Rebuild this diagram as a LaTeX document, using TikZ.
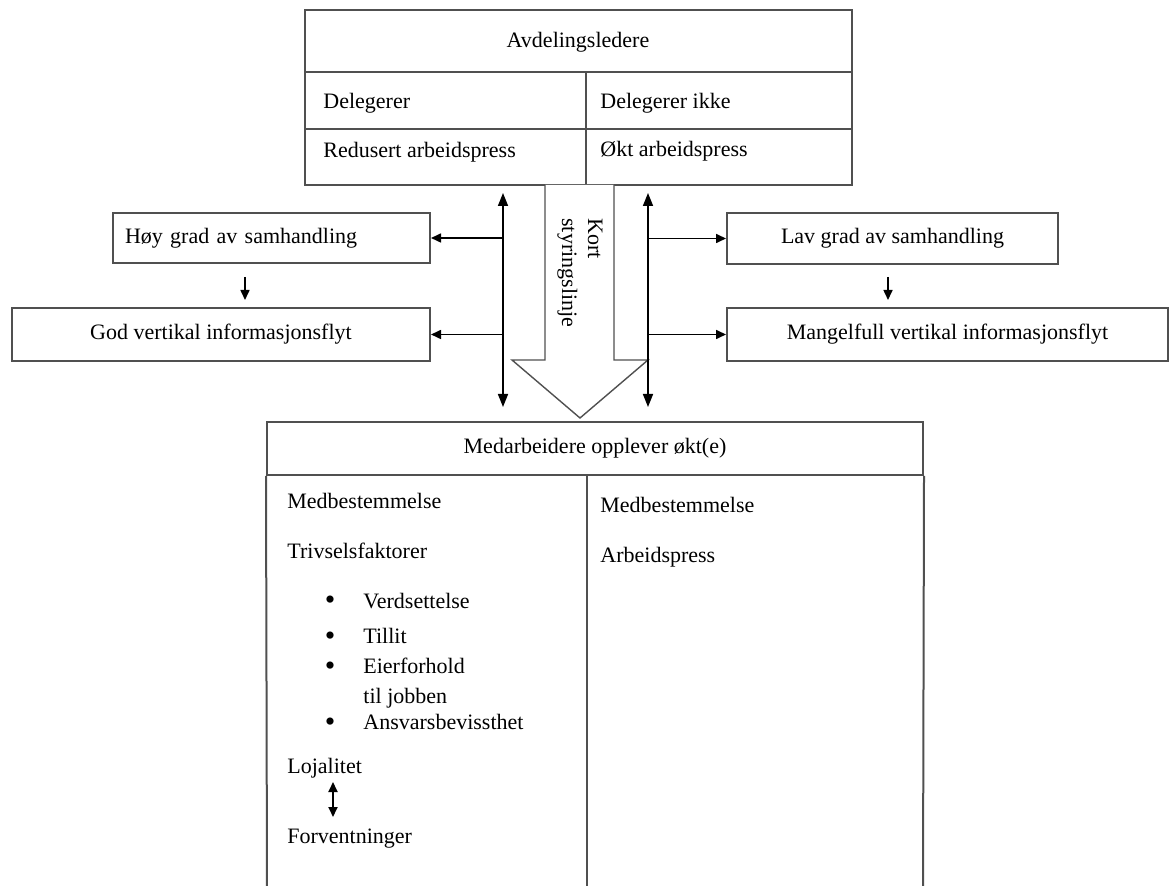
\documentclass[tikz,border=0pt]{standalone}
\usepackage{fontspec}
\setmainfont{Liberation Serif}
\usetikzlibrary{arrows.meta,calc}
\definecolor{boxc}{HTML}{505050}
\begin{document}
\begin{tikzpicture}[x=0.5pt,y=-0.5pt,
  txt/.style={font=\fontsize{11}{13}\selectfont, inner sep=0pt},
  bul/.style={font=\fontsize{15}{15}\selectfont, inner sep=0pt},
  box/.style={draw=boxc, line width=1pt, inner sep=0pt, font=\fontsize{11}{13}\selectfont},
  boxline/.style={draw=boxc, line width=1pt},
  dbl/.style={line width=0.8pt, {Triangle[length=6.5pt,width=5pt]}-{Triangle[length=6.5pt,width=5pt]}},
  harr/.style={line width=0.8pt, -{Triangle[length=5pt,width=4.5pt]}},
  varr/.style={line width=0.8pt, -{Triangle[length=5pt,width=4.5pt]}},
  sdbl/.style={line width=0.9pt, {Triangle[length=5pt,width=4.5pt]}-{Triangle[length=5pt,width=4.5pt]}},
  fat/.style={draw=boxc, line width=0.7pt, fill=white}
]
\useasboundingbox (0,0) rectangle (1171,886);

% top box
\node[box, minimum width=273.5pt, minimum height=87.5pt] (top) at (578.5,97.5) {};
\draw[boxline] (305,72) -- (852,72);
\draw[boxline] (305,129) -- (852,129);
\draw[boxline] (586,72) -- (586,185);
\node[txt, anchor=base] (avd) at (578,48) {Avdelingsledere};
\node[txt, anchor=base west] (del) at (323,109) {Delegerer};
\node[txt, anchor=base west] (delik) at (600,109) {Delegerer ikke};
\node[txt, anchor=base west] (red) at (323,158) {Redusert arbeidspress};
\node[txt, anchor=base west] (okt) at (600,157) {Økt arbeidspress};

% side boxes
\node[box, minimum width=158.5pt, minimum height=25pt, text width=146.5pt, align=left, inner xsep=6pt] (hoy) at (271.5,238) {Høy grad av samhandling};
\node[box, minimum width=209pt, minimum height=26.5pt] (god) at (221,334.5) {God vertikal informasjonsflyt};
\node[box, minimum width=165.5pt, minimum height=25.5pt] (lav) at (892.5,238.5) {Lav grad av samhandling};
\node[box, minimum width=220.5pt, minimum height=26.5pt] (mang) at (947.5,334.5) {Mangelfull vertikal informasjonsflyt};

% bottom box
\node[box, minimum width=328pt, minimum height=26.5pt] (med) at (595,448.5) {Medarbeidere opplever økt(e)};
\draw[boxline] (med.south west) -- (267,890);
\draw[boxline] (med.south east) -- (923,890);
\draw[boxline] (587,475) -- (587,890);

% fat arrow
\coordinate (fa1) at (545,185);
\coordinate (fa2) at (614,185);
\coordinate (ftip) at (580,418);
\draw[fat] (fa1) -- (545,360) -- (512,360) -- (ftip) -- (648,360) -- (614,360) -- (fa2);
\node[txt, rotate=-90, anchor=west, align=left] (kort) at (580,218) {Kort\\styringslinje};

% double arrows
\coordinate (lt) at (503,193);
\coordinate (lb) at (503,407);
\coordinate (rt) at (648,193);
\coordinate (rb) at (648,407);
\draw[dbl] (lt) -- (lb);
\draw[dbl] (rt) -- (rb);
\draw[harr] (lt |- hoy.east) -- (hoy.east);
\draw[harr] (lt |- god.east) -- (god.east);
\draw[harr] (rt |- lav.west) -- (lav.west);
\draw[harr] (rt |- mang.west) -- (mang.west);

% small vertical arrows
\coordinate (h1) at (245,277);
\coordinate (h2) at (245,300);
\coordinate (l1) at (888,277);
\coordinate (l2) at (888,300);
\draw[varr] (h1) -- (h2);
\draw[varr] (l1) -- (l2);

% left column
\node[txt, anchor=base west] (m1) at (287,509) {Medbestemmelse};
\node[txt, anchor=base west] (tri) at (287,559) {Trivselsfaktorer};
\node[bul, anchor=base] (b1) at (330,610) {\textbullet};
\node[txt, anchor=base west] (verd) at (363,608) {Verdsettelse};
\node[bul, anchor=base] (b2) at (330,645) {\textbullet};
\node[txt, anchor=base west] (till) at (363,643) {Tillit};
\node[bul, anchor=base] (b3) at (330,675) {\textbullet};
\node[txt, anchor=base west] (eier) at (363,673) {Eierforhold};
\node[txt, anchor=base west] (jobb) at (363,703) {til jobben};
\node[bul, anchor=base] (b4) at (330,731) {\textbullet};
\node[txt, anchor=base west] (ansv) at (363,729) {Ansvarsbevissthet};
\node[txt, anchor=base west] (loj) at (287,773) {Lojalitet};
\node[txt, anchor=base west] (forv) at (287,843) {Forventninger};
\coordinate (s1) at (333,782);
\coordinate (s2) at (333,817);
\draw[sdbl] (s1) -- (s2);

% right column
\node[txt, anchor=base west] (m2) at (600,513) {Medbestemmelse};
\node[txt, anchor=base west] (arb) at (600,563) {Arbeidspress};
\end{tikzpicture}
\end{document}
